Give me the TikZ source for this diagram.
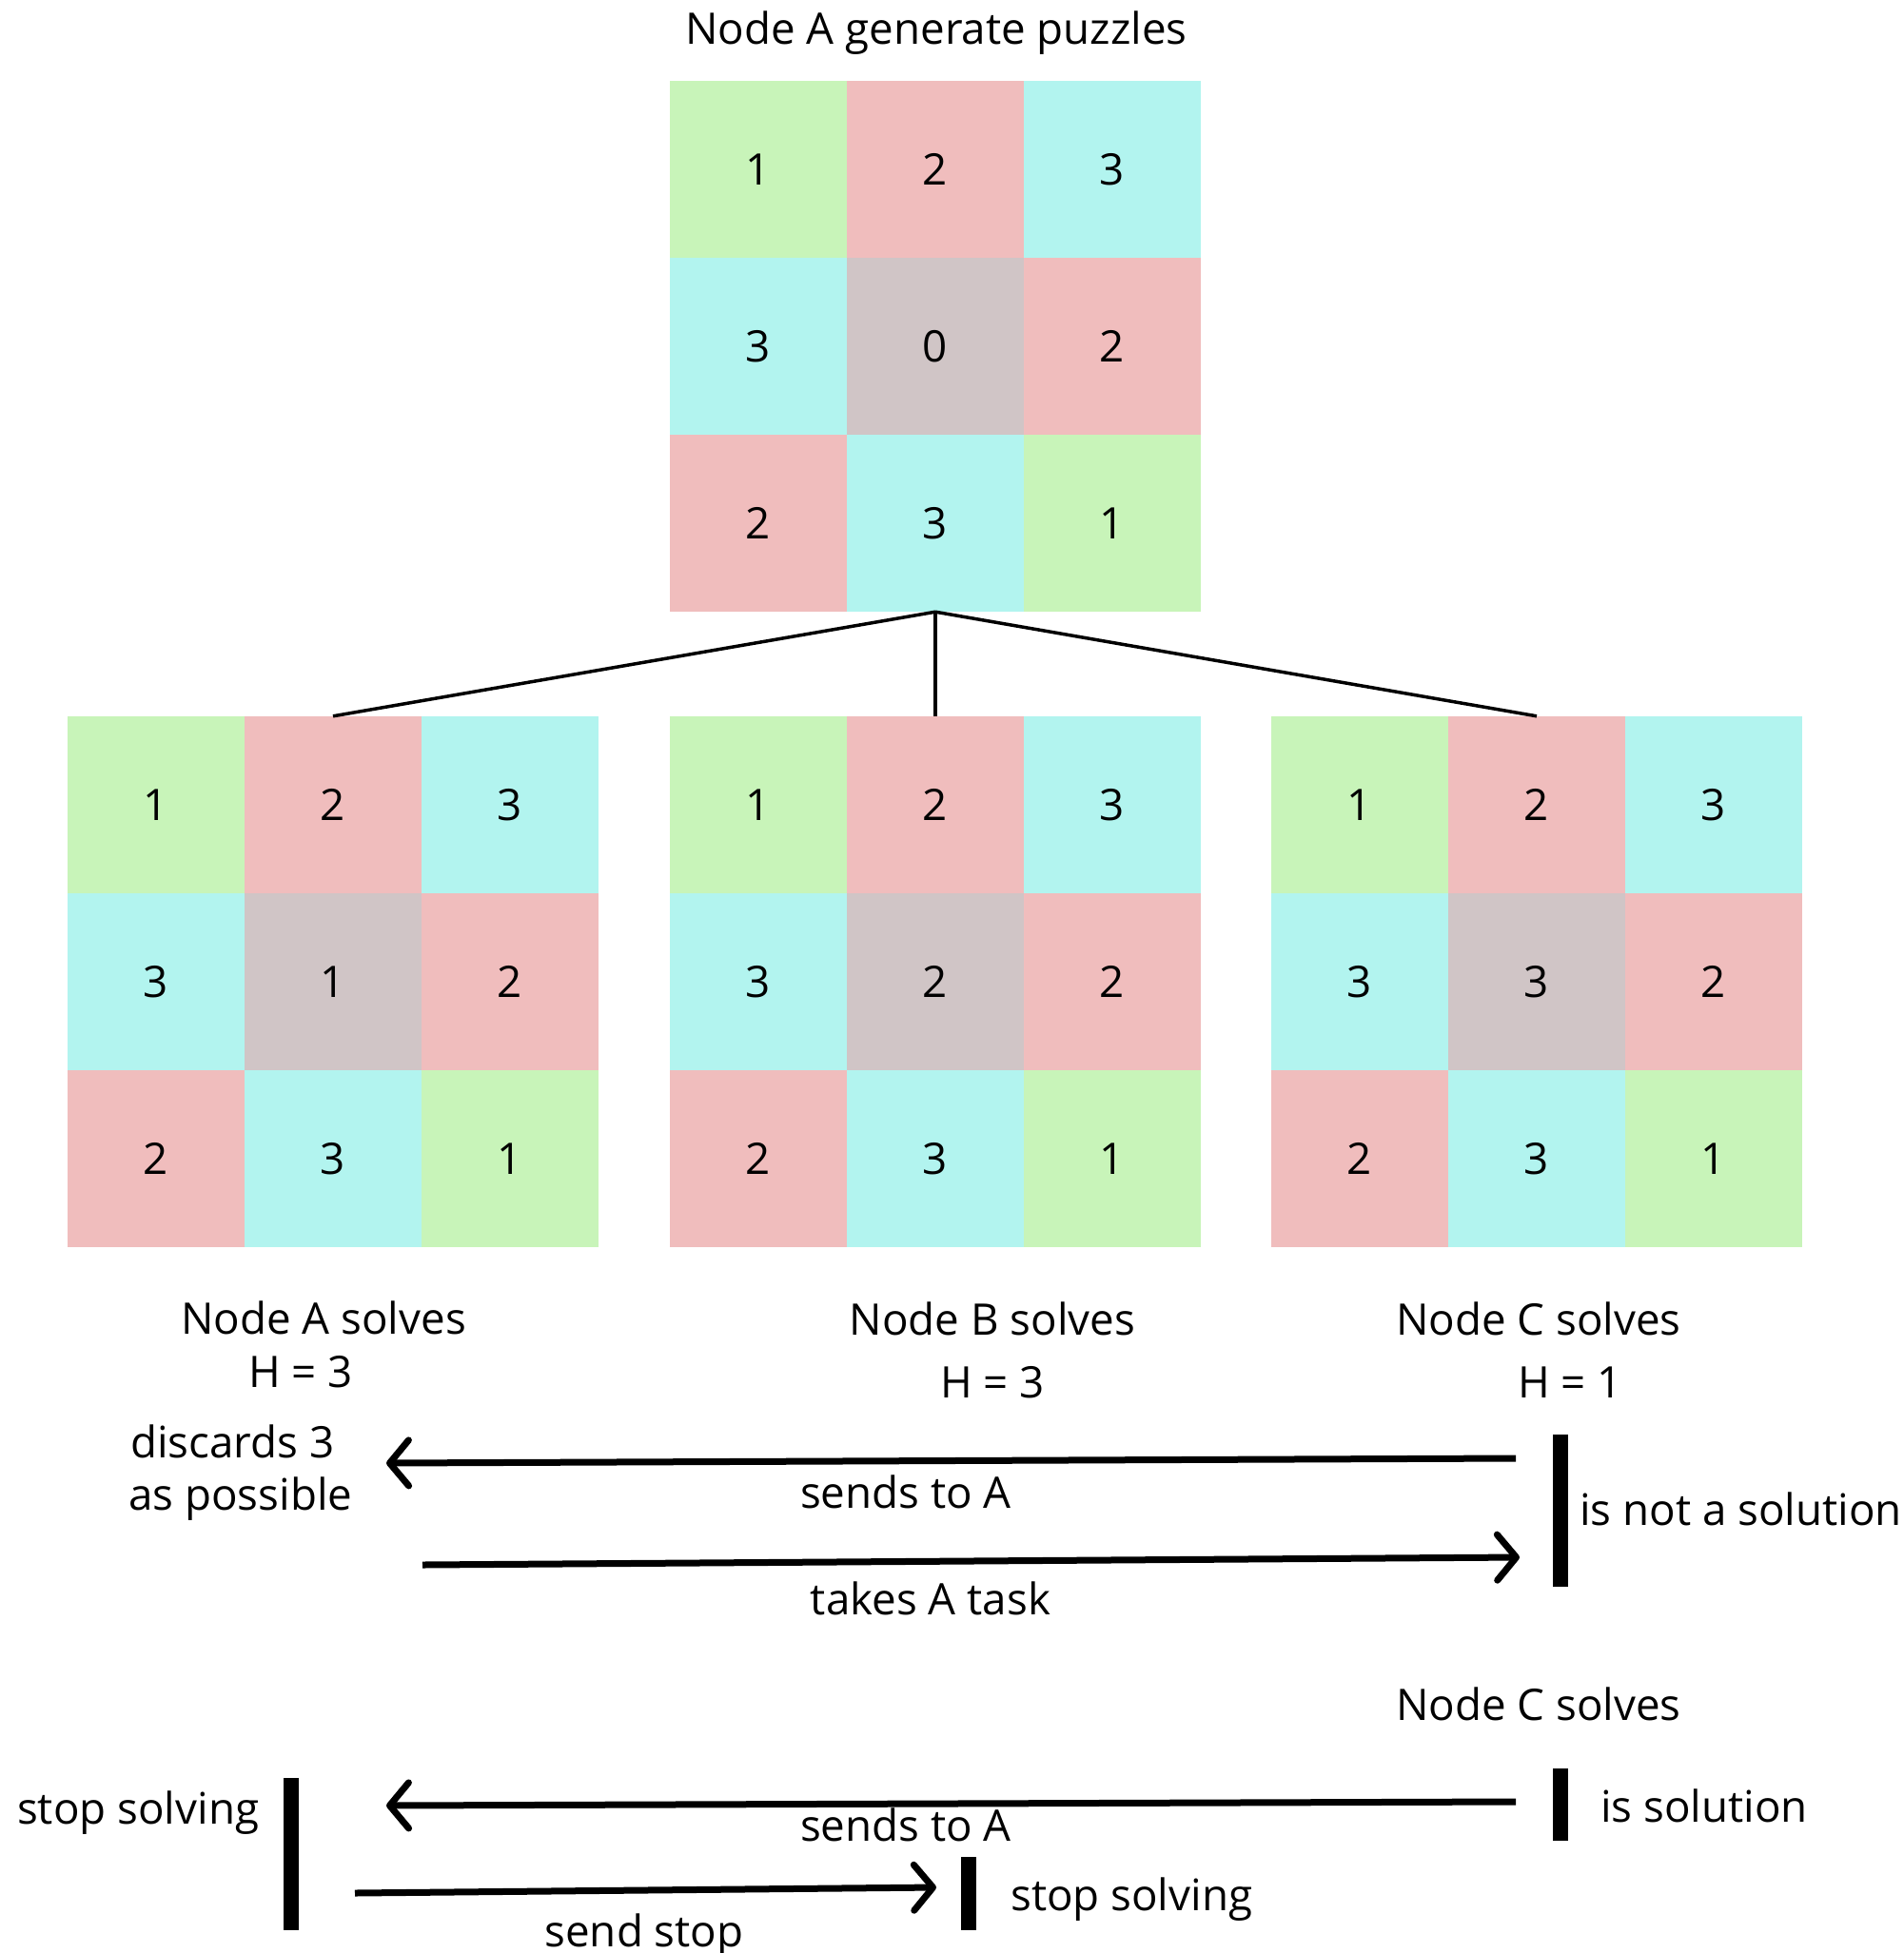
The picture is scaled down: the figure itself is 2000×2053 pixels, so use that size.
\documentclass[tikz,border=0pt]{standalone}
\usepackage{fontspec}
\setmainfont{Open Sans}
\usetikzlibrary{arrows.meta}
\definecolor{cg}{RGB}{200,244,185}
\definecolor{cp}{RGB}{240,189,189}
\definecolor{cc}{RGB}{178,244,239}
\definecolor{cy}{RGB}{208,197,198}
\newcommand{\txtfont}{\fontsize{45.7}{55}\selectfont}
\newcommand{\puzzle}[4]{%
  \node[gridbox] (#1) at (#2+279,#3+279) {};
  \foreach \v/\c [count=\k from 0] in {1/cg,2/cp,3/cc,3/cc,#4/cy,2/cp,2/cp,3/cc,1/cg} {
    \pgfmathtruncatemacro\rr{div(\k,3)}
    \pgfmathtruncatemacro\qq{mod(\k,3)}
    \node[cell,fill=\c] (#1-\k) at (#2+\qq*186+93,#3+\rr*186+93) {\v};
  }
}
\begin{document}
\begin{tikzpicture}[x=1pt,y=-1pt,
  gridbox/.style={rectangle,minimum size=558pt,inner sep=0pt},
  cell/.style={rectangle,minimum size=186pt,inner sep=0pt,font=\txtfont},
  lab/.style={inner sep=0pt,font=\txtfont,anchor=base},
  labl/.style={inner sep=0pt,font=\txtfont,anchor=base west},
  tree/.style={line width=3.5pt},
  msg/.style={line width=7pt,-{Straight Barb[length=20pt,width=48pt,round]}},
  bar/.style={rectangle,fill=black,inner sep=0pt,minimum width=16pt}
]
\useasboundingbox (0,0) rectangle (2000,2053);
\fill[white] (0,0) rectangle (2000,2053);

\node[lab] (title) at (984,46) {Node A generate puzzles};
\puzzle{gT}{704}{85}{0}
\puzzle{gA}{71}{753}{1}
\puzzle{gB}{704}{753}{2}
\puzzle{gC}{1336}{753}{3}

\draw[tree] (gT.south) -- (gA.north);
\draw[tree] (gT.south) -- (gB.north);
\draw[tree] (gT.south) -- (gC.north);

\node[lab] (sa) at (340,1402) {Node A solves};
\node[lab] (ha) at (316,1458) {H = 3};
\node[lab] (sb) at (1043,1403) {Node B solves};
\node[lab] (hb) at (1043,1469) {H = 3};
\node[lab] (sc) at (1617,1403) {Node C solves};
\node[lab] (hc) at (1650,1469) {H = 1};

\node[labl] (disc1) at (137,1532) {discards 3};
\node[labl] (disc2) at (135,1587) {as possible};

\node[bar,minimum height=160pt] (b1) at (1640,1588) {};
\node[labl] (notsol) at (1660,1603) {is not a solution};
\coordinate (a1s) at (1593,1533);
\coordinate (a1e) at (406,1538);
\draw[msg] (a1s) -- (a1e);
\node[lab] (m1) at (952,1585) {sends to A};
\coordinate (a2s) at (444,1645);
\coordinate (a2e) at (1597,1637);
\draw[msg] (a2s) -- (a2e);
\node[lab] (m2) at (978,1697) {takes A task};

\node[lab] (sc2) at (1617,1808) {Node C solves};
\node[bar,minimum height=76pt] (b2) at (1640,1897) {};
\node[labl] (issol) at (1682,1915) {is solution};
\coordinate (a3s) at (1593,1894);
\coordinate (a3e) at (406,1898);
\draw[msg] (a3s) -- (a3e);
\node[lab] (m3) at (952,1935) {sends to A};

\node[bar,minimum height=160pt] (b3) at (306,1949) {};
\node[labl] (stopA) at (18,1917) {stop solving};
\coordinate (a4s) at (373,1990);
\coordinate (a4e) at (984,1984);
\draw[msg] (a4s) -- (a4e);
\node[lab] (m4) at (677,2046) {send stop};
\node[bar,minimum height=77pt] (b4) at (1018,1990) {};
\node[labl] (stopB) at (1062,2008) {stop solving};
\end{tikzpicture}
\end{document}
